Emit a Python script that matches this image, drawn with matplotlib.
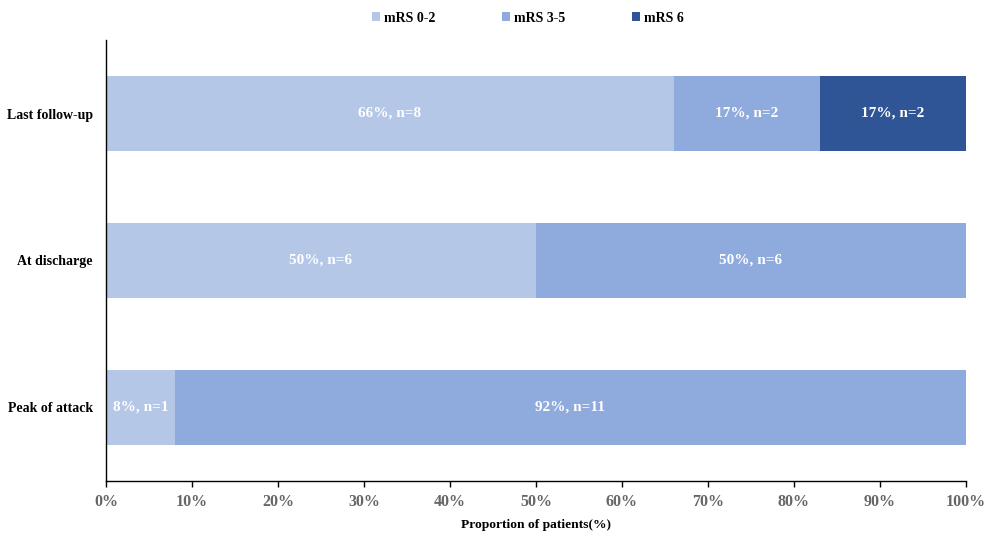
import matplotlib
matplotlib.use("Agg")
import matplotlib.pyplot as plt
from matplotlib.patches import Patch
from matplotlib.ticker import FuncFormatter

categories = ["Peak of attack", "At discharge", "Last follow-up"]
series_names = ["mRS 0-2", "mRS 3-5", "mRS 6"]
pct_02 = [8, 50, 66]
pct_35 = [92, 50, 17]
pct_6 = [0, 0, 17]
n_02 = [1, 6, 8]
n_35 = [11, 6, 2]
n_6 = [0, 0, 2]
colors = ["#B4C7E7", "#8FAADC", "#2F5597"]

plt.rcParams['font.family'] = ['Liberation Serif', 'DejaVu Serif']
fig = plt.figure(figsize=(10, 5.43), dpi=100)
ax = fig.add_axes([0.106, 1 - 481/543, 0.86, (481-40)/543])

y = list(range(len(categories)))
left = [0]*len(categories)
for vals, ns, col in zip([pct_02, pct_35, pct_6], [n_02, n_35, n_6], colors):
    ax.barh(y, vals, left=left, height=0.51, color=col, edgecolor='none')
    for i, (v, n) in enumerate(zip(vals, ns)):
        if v > 0:
            ax.text(left[i] + v/2, y[i], f"{v}%, n={n}", ha='center', va='center',
                    color='white', fontsize=11, fontweight='bold')
    left = [l + v for l, v in zip(left, vals)]

ax.set_xlim(0, 100)
ax.set_ylim(-0.5, 2.5)
ax.set_yticks(y)
ax.set_yticklabels(categories, fontsize=10, fontweight='bold')
ax.tick_params(axis='y', length=0, pad=9.5)
ax.set_xticks(range(0, 101, 10))
ax.xaxis.set_major_formatter(FuncFormatter(lambda v, p: f"{int(v)}%"))
ax.tick_params(axis='x', length=4, width=1, labelsize=11.5, labelcolor='#666666', pad=5.5)
for lab in ax.get_xticklabels():
    lab.set_fontweight('bold')
ax.set_xlabel("Proportion of patients(%)", fontsize=9.7, fontweight='bold', labelpad=6.5)
for s in ['top', 'right']:
    ax.spines[s].set_visible(False)
ax.spines['left'].set_linewidth(1)
ax.spines['bottom'].set_linewidth(1)

handles = [Patch(facecolor=c, edgecolor='none') for c in colors]
leg = fig.legend(handles, series_names, loc='center', bbox_to_anchor=(0.528, 1 - 18/543), ncol=3,
                 frameon=False, handlelength=0.55, handleheight=0.55, handletextpad=0.3,
                 columnspacing=4.8, prop={'weight': 'bold', 'size': 10})

fig.savefig("out.png", dpi=100)
